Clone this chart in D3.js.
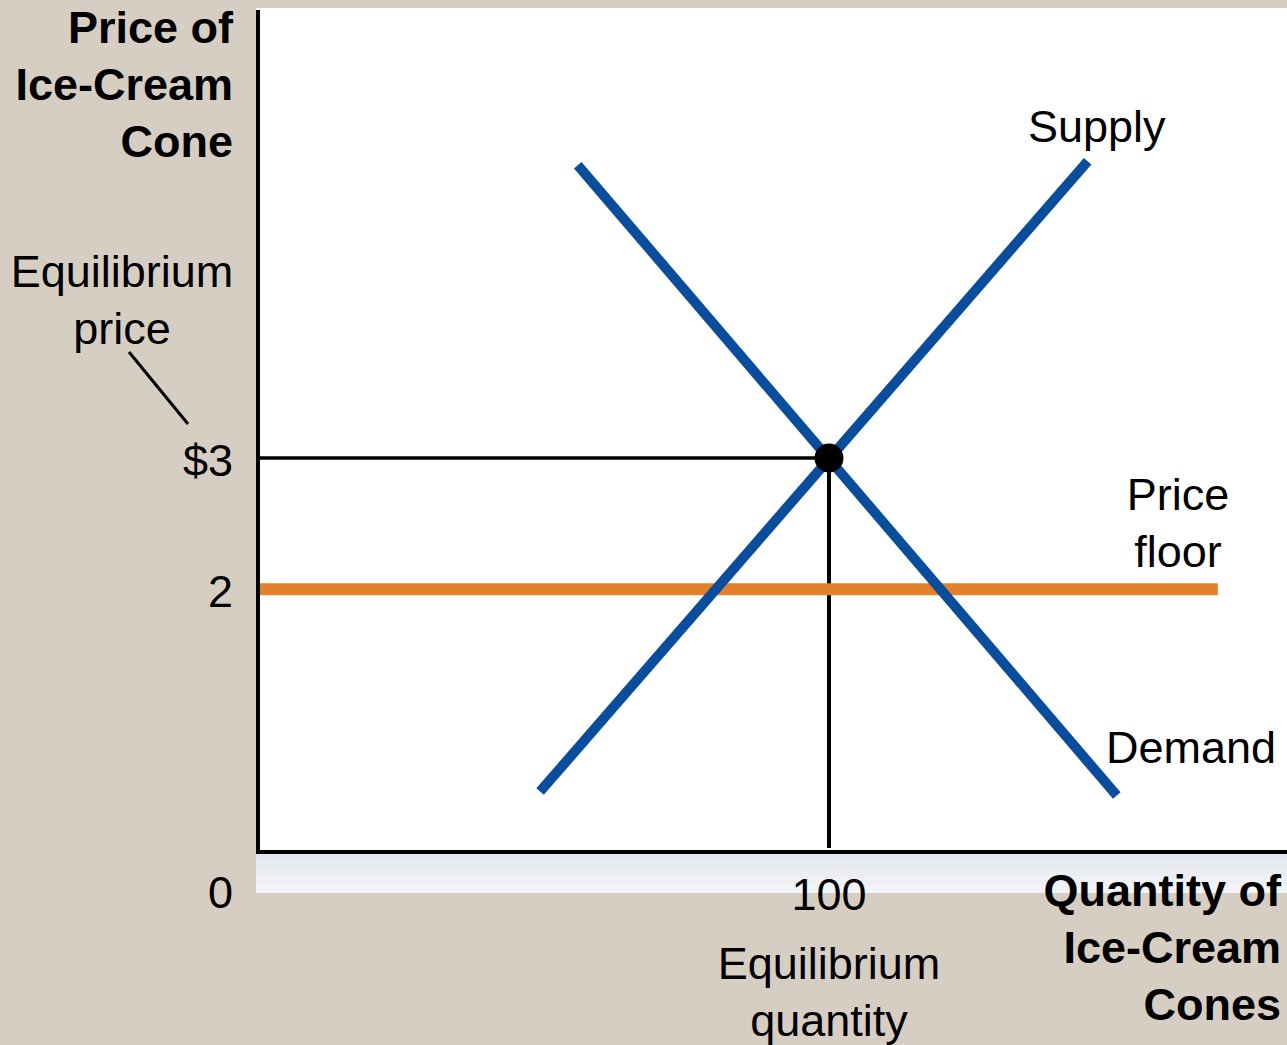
<!DOCTYPE html>
<html lang="en">
<head>
  <meta charset="UTF-8" />
  <title>Price Floor - Ice-Cream Cones</title>
  <script src="https://d3js.org/d3.v7.min.js"></script>
  <style>
    body {
      margin: 0;
      padding: 0;
      background-color: #d6cec3;
      font-family: "Liberation Sans", Arial, sans-serif;
      overflow: hidden;
    }
  </style>
</head>
<body>
  <div id="viz"></div>
  <script>
    // quantity, price pairs
    const supplyPoints = [[49.4, 0.46], [145.3, 5.26]];
    const demandPoints = [[56.0, 5.23], [150.4, 0.43]];
    const floorPoints = [[0, 2], [168.1, 2]];
    const equilibrium = { q: 100, p: 3 };

    const yTicks = [
      { value: 3, label: "$3" },
      { value: 2, label: "2" },
      { value: 0, label: "0" }
    ];
    const xTicks = [{ value: 100, label: "100" }];

    const width = 1287;
    const height = 1045;
    const left = 258;
    const axisY = 852;

    const svg = d3.select("#viz")
      .append("svg")
      .attr("width", width)
      .attr("height", height);

    const x = d3.scaleLinear().domain([0, 180]).range([left, left + 180 * 5.71]);
    const y = d3.scaleLinear().domain([0, 3]).range([axisY, 458]);

    const defs = svg.append("defs");
    const grad = defs.append("linearGradient")
      .attr("id", "band")
      .attr("x1", 0).attr("y1", 0).attr("x2", 0).attr("y2", 1);
    grad.append("stop").attr("offset", "0%").attr("stop-color", "#e2e5ee");
    grad.append("stop").attr("offset", "100%").attr("stop-color", "#f4f5f8");

    // white plot panel
    svg.append("rect")
      .attr("x", 256).attr("y", 8)
      .attr("width", width - 256).attr("height", axisY - 8)
      .attr("fill", "white");
    svg.append("rect")
      .attr("x", 256).attr("y", axisY)
      .attr("width", width - 256).attr("height", 893 - axisY)
      .attr("fill", "url(#band)");

    // equilibrium guide lines
    svg.append("line")
      .attr("x1", left).attr("x2", x(equilibrium.q))
      .attr("y1", y(equilibrium.p)).attr("y2", y(equilibrium.p))
      .attr("stroke", "black").attr("stroke-width", 3.5);
    svg.append("line")
      .attr("x1", x(equilibrium.q)).attr("x2", x(equilibrium.q))
      .attr("y1", y(equilibrium.p)).attr("y2", axisY - 4)
      .attr("stroke", "black").attr("stroke-width", 4);

    const line = d3.line().x(d => x(d[0])).y(d => y(d[1]));

    svg.append("path")
      .attr("d", line(floorPoints))
      .attr("stroke", "#e3802b").attr("stroke-width", 12)
      .attr("fill", "none");

    svg.append("path")
      .attr("d", line(supplyPoints))
      .attr("stroke", "#0a4d9c").attr("stroke-width", 10)
      .attr("fill", "none");

    svg.append("path")
      .attr("d", line(demandPoints))
      .attr("stroke", "#0a4d9c").attr("stroke-width", 10)
      .attr("fill", "none");

    svg.append("circle")
      .attr("cx", x(equilibrium.q)).attr("cy", y(equilibrium.p))
      .attr("r", 14.5)
      .attr("fill", "black");

    // axes
    svg.append("line")
      .attr("x1", left).attr("x2", left)
      .attr("y1", 10).attr("y2", axisY + 2)
      .attr("stroke", "black").attr("stroke-width", 4);
    svg.append("line")
      .attr("x1", left - 2).attr("x2", width)
      .attr("y1", axisY).attr("y2", axisY)
      .attr("stroke", "black").attr("stroke-width", 4);

    // tick labels
    svg.selectAll(".ytick")
      .data(yTicks)
      .enter()
      .append("text")
      .attr("x", 233)
      .attr("y", d => d.value === 0 ? 908 : y(d.value) + 18)
      .attr("text-anchor", "end")
      .style("font-size", "45px")
      .text(d => d.label);

    svg.selectAll(".xtick")
      .data(xTicks)
      .enter()
      .append("text")
      .attr("x", d => x(d.value))
      .attr("y", 910)
      .attr("text-anchor", "middle")
      .style("font-size", "45px")
      .text(d => d.label);

    function multiline(lines, px, py, anchor, bold) {
      const t = svg.append("text")
        .attr("text-anchor", anchor)
        .style("font-size", "45px")
        .style("font-weight", bold ? "bold" : "normal");
      lines.forEach((s, i) => {
        t.append("tspan").attr("x", px).attr("y", py + i * 57).text(s);
      });
    }

    multiline(["Price of", "Ice-Cream", "Cone"], 233, 43, "end", true);
    multiline(["Quantity of", "Ice-Cream", "Cones"], 1281, 906, "end", true);
    multiline(["Equilibrium", "price"], 122, 287, "middle", false);
    multiline(["Equilibrium", "quantity"], x(equilibrium.q), 979, "middle", false);
    multiline(["Price", "floor"], 1178, 510, "middle", false);
    multiline(["Supply"], 1028, 142, "start", false);
    multiline(["Demand"], 1106, 763, "start", false);

    // leader from label to $3
    svg.append("line")
      .attr("x1", 129).attr("y1", 352)
      .attr("x2", 188).attr("y2", 424)
      .attr("stroke", "black").attr("stroke-width", 3);
  </script>
</body>
</html>
